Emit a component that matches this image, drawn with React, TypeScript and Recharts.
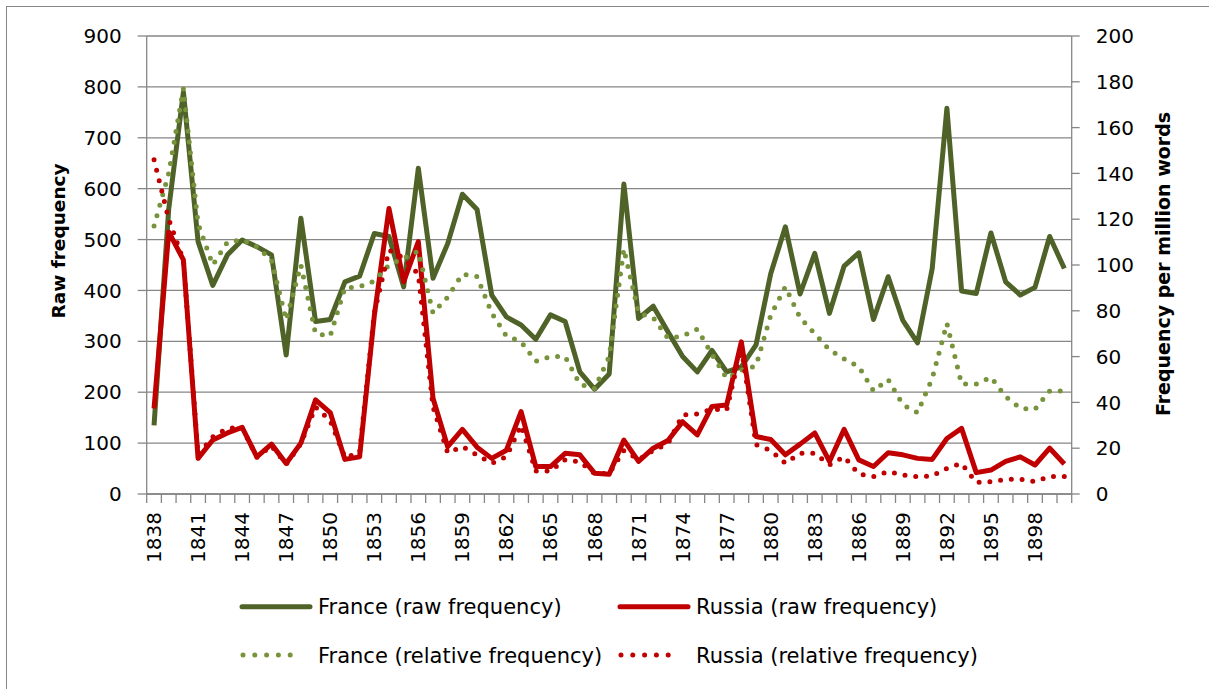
import React from 'react';
import { LineChart, Line, XAxis, YAxis, CartesianGrid, Legend } from 'recharts';

const years = [
  '1838','1839','1840','1841','1842','1843','1844','1845','1846','1847',
  '1848','1849','1850','1851','1852','1853','1854','1855','1856','1857',
  '1858','1859','1860','1861','1862','1863','1864','1865','1866','1867',
  '1868','1869','1870','1871','1872','1873','1874','1875','1876','1877',
  '1878','1879','1880','1881','1882','1883','1884','1885','1886','1887',
  '1888','1889','1890','1891','1892','1893','1894','1895','1896','1897',
  '1898','1899','1900',
];

const franceRaw = [
  135, 560, 790, 496, 410, 470, 499, 486, 470, 273,
  542, 339, 343, 417, 428, 512, 506, 407, 640, 424,
  492, 589, 559, 391, 348, 332, 304, 352, 339, 240,
  206, 236, 609, 345, 369, 319, 270, 240, 282, 240,
  250, 293, 433, 525, 393, 473, 355, 448, 474, 343,
  427, 341, 297, 443, 758, 399, 394, 513, 417, 391,
  406, 506, 443,
];

const russiaRaw = [
  168, 515, 460, 70, 106, 120, 131, 73, 98, 60,
  100, 185, 160, 68, 73, 350, 561, 417, 496, 188,
  93, 127, 92, 70, 86, 162, 54, 54, 80, 77,
  41, 39, 106, 64, 90, 105, 142, 116, 172, 175,
  299, 113, 107, 77, 98, 120, 64, 127, 67, 54,
  81, 77, 70, 68, 109, 129, 42, 47, 64, 73,
  57, 90, 59,
];

const franceRel = [
  117, 140, 177, 118, 100, 110, 111, 108, 102, 76,
  100, 70, 69, 90, 90.5, 93, 100, 103, 106, 79,
  86, 96, 95, 79, 69, 66.5, 58, 60, 60, 48,
  46, 60, 107, 79, 77, 68, 69, 72, 61, 50.5,
  54, 56, 78, 90.5, 77, 70, 63, 59, 55.6, 45,
  50, 39, 35.5, 50.5, 74.5, 48, 48, 51, 42.5, 37.4,
  37, 45, 45,
];

const russiaRel = [
  146, 120, 102, 17, 25, 28.7, 29, 16, 21, 13,
  22, 38, 32, 16, 18, 79, 106.5, 103, 96, 38,
  18, 20.7, 17, 13.4, 16.3, 30, 10, 10, 15, 14,
  9, 9, 19, 15, 19, 22, 34.5, 35, 37, 36.7,
  64, 21.5, 19, 13.4, 17.8, 17.8, 12.7, 16.3, 8.7, 7.6,
  9.8, 8.3, 7.6, 7.9, 11.2, 13.4, 5, 5.4, 6.4, 6.4,
  5.4, 7.6, 7.6,
];

const leftTicks = [0, 100, 200, 300, 400, 500, 600, 700, 800, 900];
const rightTicks = [0, 20, 40, 60, 80, 100, 120, 140, 160, 180, 200];

const seriesNames = [
  'France (raw frequency)',
  'Russia (raw frequency)',
  'France (relative frequency)',
  'Russia (relative frequency)',
];

const data = years.map((year, i) => ({
  year,
  franceRaw: franceRaw[i],
  russiaRaw: russiaRaw[i],
  franceRel: franceRel[i],
  russiaRel: russiaRel[i],
}));

const W = 1209;
const H = 689;
const LEFT_W = 146.7;
const RIGHT_W = 137.3;
const TOP = 36;
const XAXIS_H = 195;
const PLOT_W = W - LEFT_W - RIGHT_W;
const N = years.length;
const STEP = PLOT_W / N;

const FONT = '"DejaVu Sans", Verdana, sans-serif';
const GRAY = '#868686';
const GREEN_DARK = '#4F6228';
const GREEN_LIGHT = '#77933C';
const RED = '#C00000';
const LINE_W = 5;
const DOT_W = 5;
const DOTS = '0 10.8';

const XTick = (props: any) => {
  const { x, y, index } = props;
  const half = STEP / 2;
  const showLabel = index % 3 === 0;
  return (
    <g>
      <line x1={x - half} x2={x - half} y1={y} y2={y + 9} stroke={GRAY} strokeWidth={1.3} />
      {index === N - 1 && (
        <line x1={x + half} x2={x + half} y1={y} y2={y + 9} stroke={GRAY} strokeWidth={1.3} />
      )}
      {showLabel && (
        <text
          transform={`translate(${x + 7},${y + 18}) rotate(-90)`}
          textAnchor="end"
          fontFamily={FONT}
          fontSize={20}
          fill="#000"
        >
          {props.payload.value}
        </text>
      )}
    </g>
  );
};

const LeftTitle = () => (
  <text
    transform="translate(58,241) rotate(-90)"
    textAnchor="middle"
    dominantBaseline="central"
    fontFamily={FONT}
    fontWeight="bold"
    fontSize={18.5}
    fill="#000"
  >
    Raw frequency
  </text>
);

const RightTitle = () => (
  <text
    transform="translate(1163,264) rotate(-90)"
    textAnchor="middle"
    dominantBaseline="central"
    fontFamily={FONT}
    fontWeight="bold"
    fontSize={19}
    fill="#000"
  >
    Frequency per million words
  </text>
);

const legendStyles = [
  { color: GREEN_DARK, dotted: false, col: 0, row: 0 },
  { color: RED, dotted: false, col: 1, row: 0 },
  { color: GREEN_LIGHT, dotted: true, col: 0, row: 1 },
  { color: RED, dotted: true, col: 1, row: 1 },
];

const LegendContent = () => (
  <svg width={780} height={95} style={{ overflow: 'visible' }}>
    {legendStyles.map((s, i) => {
      const x0 = s.col === 0 ? 10 : 388;
      const y0 = s.row === 0 ? 21.7 : 70;
      return (
        <g key={i}>
          {s.dotted ? (
            <line
              x1={x0 + 3}
              x2={x0 + 3 + 5 * 11.8}
              y1={y0}
              y2={y0}
              stroke={s.color}
              strokeWidth={DOT_W}
              strokeLinecap="round"
              strokeDasharray="0 11.8"
            />
          ) : (
            <line
              x1={x0 + 2}
              x2={x0 + 70}
              y1={y0}
              y2={y0}
              stroke={s.color}
              strokeWidth={LINE_W}
              strokeLinecap="round"
            />
          )}
          <text
            x={x0 + 78}
            y={y0 + 7.5}
            fontFamily={FONT}
            fontSize={21}
            fill="#000"
          >
            {seriesNames[i]}
          </text>
        </g>
      );
    })}
  </svg>
);

export default function App() {
  return (
    <div
      style={{
        position: 'absolute',
        left: 0,
        top: 0,
        width: W,
        height: H,
        background: '#fff',
      }}
    >
      <div
        style={{
          position: 'absolute',
          left: 6,
          top: 6,
          width: W,
          height: H,
          borderLeft: `1.5px solid ${GRAY}`,
          borderTop: `1.5px solid ${GRAY}`,
        }}
      />
      <LineChart
        width={W}
        height={H}
        data={data}
        margin={{ top: TOP, right: 0, bottom: 0, left: 0 }}
        style={{ position: 'absolute', left: 0, top: 0 }}
      >
        <CartesianGrid yAxisId="left" vertical={false} stroke={GRAY} strokeWidth={1.3} />
        <XAxis
          dataKey="year"
          interval={0}
          height={XAXIS_H}
          padding={{ left: STEP / 2, right: STEP / 2 }}
          tickLine={false}
          tickSize={0}
          tickMargin={0}
          axisLine={{ stroke: GRAY, strokeWidth: 1.3 }}
          tick={<XTick />}
        />
        <YAxis
          yAxisId="left"
          orientation="left"
          width={LEFT_W}
          domain={[0, 900]}
          ticks={leftTicks}
          interval={0}
          tickSize={9}
          tickMargin={16}
          axisLine={{ stroke: GRAY, strokeWidth: 1.3 }}
          tickLine={{ stroke: GRAY, strokeWidth: 1.3 }}
          tick={{ fill: '#000', fontSize: 20, fontFamily: FONT }}
          label={<LeftTitle />}
        />
        <YAxis
          yAxisId="right"
          orientation="right"
          width={RIGHT_W}
          domain={[0, 200]}
          ticks={rightTicks}
          interval={0}
          tickSize={8}
          tickMargin={16}
          axisLine={{ stroke: GRAY, strokeWidth: 1.3 }}
          tickLine={{ stroke: GRAY, strokeWidth: 1.3 }}
          tick={{ fill: '#000', fontSize: 20, fontFamily: FONT }}
          label={<RightTitle />}
        />
        <Line
          yAxisId="left"
          type="linear"
          dataKey="franceRaw"
          name={seriesNames[0]}
          stroke={GREEN_DARK}
          strokeWidth={LINE_W}
          strokeLinejoin="round"
          dot={false}
          activeDot={false}
          isAnimationActive={false}
        />
        <Line
          yAxisId="left"
          type="linear"
          dataKey="russiaRaw"
          name={seriesNames[1]}
          stroke={RED}
          strokeWidth={LINE_W}
          strokeLinejoin="round"
          dot={false}
          activeDot={false}
          isAnimationActive={false}
        />
        <Line
          yAxisId="right"
          type="linear"
          dataKey="franceRel"
          name={seriesNames[2]}
          stroke={GREEN_LIGHT}
          strokeWidth={DOT_W}
          strokeLinecap="round"
          strokeDasharray={DOTS}
          dot={false}
          activeDot={false}
          isAnimationActive={false}
        />
        <Line
          yAxisId="right"
          type="linear"
          dataKey="russiaRel"
          name={seriesNames[3]}
          stroke={RED}
          strokeWidth={DOT_W}
          strokeLinecap="round"
          strokeDasharray={DOTS}
          dot={false}
          activeDot={false}
          isAnimationActive={false}
        />
        <Legend
          layout="horizontal"
          verticalAlign="middle"
          align="center"
          width={780}
          height={95}
          wrapperStyle={{ left: 230, top: 585, width: 780, height: 95 }}
          content={<LegendContent />}
        />
      </LineChart>
    </div>
  );
}
